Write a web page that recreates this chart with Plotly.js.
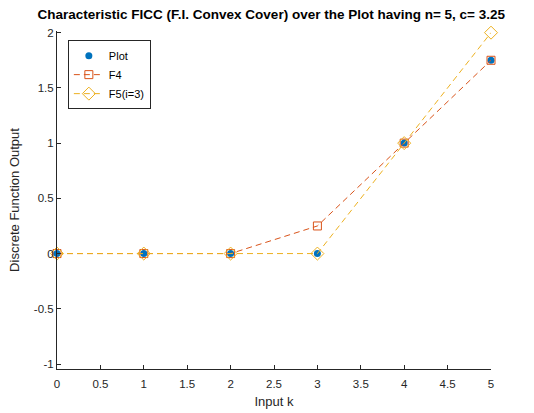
<!DOCTYPE html>
<html>
<head>
<meta charset="utf-8">
<script src="https://cdn.plot.ly/plotly-3.0.1.min.js"></script>
<style>html,body{margin:0;padding:0;background:#fff;}#chart{width:534px;height:413px;}</style>
</head>
<body>
<div id="chart"></div>
<script>
var k = [0, 1, 2, 3, 4, 5];
var plotVals = [0, 0, 0, 0, 1, 1.75];
var f4Vals = [0, 0, 0, 0.25, 1, 1.75];
var f5Vals = [0, 0, 0, 0, 1, 2];
var xTicks = [0, 0.5, 1, 1.5, 2, 2.5, 3, 3.5, 4, 4.5, 5];
var yTicks = [-1, -0.5, 0, 0.5, 1, 1.5, 2];

var traces = [
  {x: k, y: plotVals, name: 'Plot', mode: 'markers', type: 'scatter', cliponaxis: false,
   marker: {symbol: 'circle', size: 7, color: '#0072BD'}},
  {x: k, y: f4Vals, name: 'F4', mode: 'lines+markers', type: 'scatter', cliponaxis: false,
   line: {color: '#D95319', dash: '6px,4px', width: 1},
   marker: {symbol: 'square-open', size: 8, color: '#D95319', line: {width: 1}}},
  {x: k, y: f5Vals, name: 'F5(i=3)', mode: 'lines+markers', type: 'scatter', cliponaxis: false,
   line: {color: '#EDB120', dash: '6px,4px', width: 1},
   marker: {symbol: 'diamond-open', size: 10, color: '#EDB120', line: {width: 1}}}
];

var layout = {
  width: 534, height: 413,
  margin: {l: 57, r: 43, t: 31, b: 44},
  paper_bgcolor: '#fff', plot_bgcolor: '#fff',
  font: {family: 'Liberation Sans, Arial, sans-serif', size: 11.5, color: '#262626'},
  title: {text: 'Characteristic FICC (F.I. Convex Cover) over the Plot having n= 5, c= 3.25',
          font: {size: 13.5, color: '#000', family: 'Liberation Sans, Arial, sans-serif', weight: 'bold'},
          x: 0.508, xanchor: 'center', y: 0.965, yanchor: 'middle'},
  xaxis: {range: [0, 5], tickvals: xTicks, ticktext: xTicks.map(String),
          showgrid: false, zeroline: false, showline: true, linecolor: '#262626', linewidth: 1,
          ticks: 'inside', ticklen: 4, tickcolor: '#262626', mirror: false,
          ticklabelstandoff: 4,
          title: {text: 'Input k', font: {size: 13}, standoff: 8}},
  yaxis: {range: [-1.045, 2.015], tickvals: yTicks, ticktext: yTicks.map(String),
          showgrid: false, zeroline: false, showline: true, linecolor: '#262626', linewidth: 1,
          ticks: 'inside', ticklen: 4, tickcolor: '#262626', mirror: false,
          title: {text: 'Discrete Function Output', font: {size: 13}, standoff: 11}},
  legend: {x: 0.025, y: 0.973, xanchor: 'left', yanchor: 'top',
           bordercolor: '#262626', borderwidth: 1, bgcolor: '#fff',
           font: {size: 11, color: '#000'}, tracegroupgap: 0, itemwidth: 30},
  showlegend: true
};
Plotly.newPlot('chart', traces, layout, {displayModeBar: false, staticPlot: true});
</script>
</body>
</html>
